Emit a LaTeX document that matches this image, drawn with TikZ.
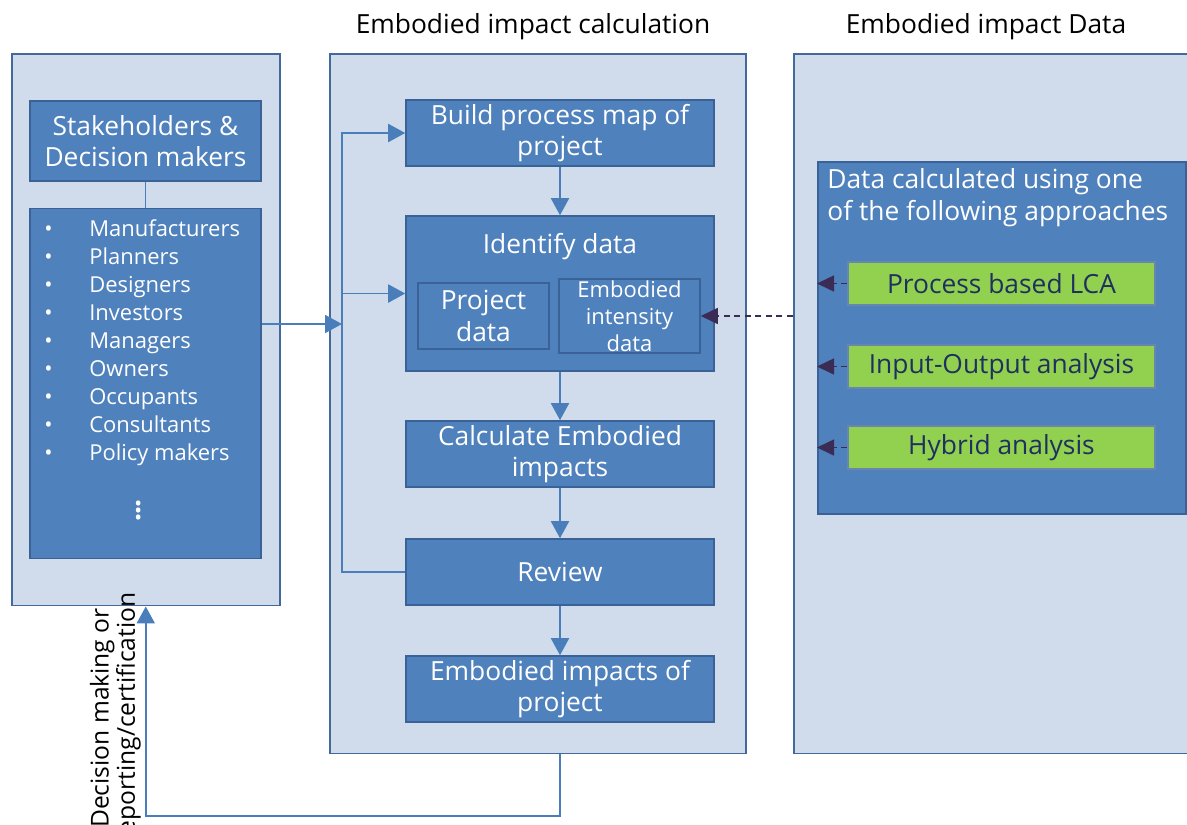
\documentclass[tikz,border=0pt]{standalone}
\usepackage{fontspec}
\setmainfont{Open Sans}
\usetikzlibrary{positioning,arrows.meta}
\definecolor{boxblue}{HTML}{4F81BD}
\definecolor{boxedge}{HTML}{3A6296}
\definecolor{panelfill}{HTML}{D0DCEC}
\definecolor{paneledge}{HTML}{43689B}
\definecolor{linkblue}{HTML}{4A7EBB}
\definecolor{datapurple}{HTML}{3B2C55}
\definecolor{lcagreen}{HTML}{92D050}
\definecolor{lcatext}{HTML}{1F3060}
\tikzset{
  panel/.style={draw=paneledge, fill=panelfill, line width=0.9pt, anchor=north west, inner sep=0pt},
  blue/.style={draw=boxedge, fill=boxblue, text=white, line width=0.9pt, align=center, inner sep=1pt},
  stepbox/.style={blue, minimum width=6.16cm, minimum height=1.32cm, font=\fontsize{15}{18}\selectfont},
  subbox/.style={blue, minimum height=1.32cm},
  lcabox/.style={draw=paneledge!80, fill=lcagreen, text=lcatext, line width=0.9pt, minimum width=6.14cm, minimum height=0.86cm, font=\fontsize{15}{17}\selectfont},
  heading/.style={font=\fontsize{15}{17}\selectfont},
  flow/.style={draw=linkblue, line width=1.1pt, -{Triangle[width=0.36cm,length=0.34cm]}},
  link/.style={draw=linkblue, line width=1.1pt},
  dataflow/.style={draw=datapurple, line width=0.9pt, dashed, dash pattern=on 3.5pt off 2.5pt, -{Triangle[width=0.32cm,length=0.34cm]}}
}
\begin{document}
\begin{tikzpicture}[x=0.02cm, y=-0.02cm]
\useasboundingbox (0,0) rectangle (1187,825);
% panels
\node[panel, minimum width=5.36cm, minimum height=11.04cm] (people) at (11,53) {};
\node[panel, minimum width=8.32cm, minimum height=14cm] (calc) at (329,53) {};
\node[panel, minimum width=8.4cm, minimum height=14cm] (data) at (793,53) {};
\node[heading] (calctitle) at (533,27) {Embodied impact calculation};
\node[heading] (datatitle) at (986,27) {Embodied impact Data};

% stakeholders
\node[blue, minimum width=4.62cm, minimum height=1.6cm, font=\fontsize{15}{18}\selectfont] (stake) at (145.5,141) {Stakeholders \&\\Decision makers};
\node[blue, minimum width=4.62cm, minimum height=7cm, below=0.52cm of stake] (list) {};
\node[anchor=north west, inner sep=0pt, text=white, font=\fontsize{12.5}{15.9}\selectfont] (names) at (44,217) {%
  \begin{tabular}{@{}p{0.9cm}@{}l@{}}
  • & Manufacturers\\
  • & Planners\\
  • & Designers\\
  • & Investors\\
  • & Managers\\
  • & Owners\\
  • & Occupants\\
  • & Consultants\\
  • & Policy makers
  \end{tabular}};
\node[text=white, font=\fontsize{22}{22}\selectfont] (more) at (139,505) {\vdots};

% process
\node[stepbox] (build) at (560,133) {Build process map of\\project};
\node[stepbox, minimum height=3.1cm] (identify) at (560,293.5) {};
\node[text=white, font=\fontsize{15}{17}\selectfont] (idtitle) at (560,247) {Identify data};
\node[subbox, minimum width=2.62cm, font=\fontsize{15}{18}\selectfont] (project) at (483.5,316) {Project\\data};
\node[subbox, minimum width=2.82cm, font=\fontsize{12.5}{15.3}\selectfont] (intensity) at (629.5,316) {Embodied\\intensity\\data};
\node[stepbox] (impacts) at (560,454) {Calculate Embodied\\impacts};
\node[stepbox] (review) at (560,572) {Review};
\node[stepbox] (result) at (560,689) {Embodied impacts of\\project};
\coordinate (feed) at (342,324);

% approaches
\node[blue, anchor=north west, minimum width=7.36cm, minimum height=7.04cm] (approach) at (817,161) {};
\node[anchor=north west, align=left, inner sep=0pt, text=white, font=\fontsize{15}{18}\selectfont] (approachtext) at (827,168) {Data calculated using one\\of the following approaches};
\node[lcabox] (lca) at (1001.5,283.5) {Process based LCA};
\node[lcabox] (io) at (1001.5,366.5) {Input-Output analysis};
\node[lcabox] (hybrid) at (1001.5,447.5) {Hybrid analysis};

\node[rotate=90, anchor=south, align=center, inner sep=1pt, font=\fontsize{14}{15}\selectfont] (decide) at (143,718) {Decision making or\\reporting/certification};

% edges
\draw[link] (stake) -- (list);
\draw[flow] (list.east |- feed) -- (feed);
\draw[flow] (review.west) -- (review.west -| feed) |- (build.west);
\draw[flow] (identify.west -| feed) -- (identify.west);
\draw[flow] (build) -- (identify);
\draw[flow] (identify) -- (impacts);
\draw[flow] (impacts) -- (review);
\draw[flow] (review) -- (result);
\draw[flow] (result |- calc.south) -- ++(0,62) -| (people.south);
\foreach \src in {lca,io,hybrid}
  \draw[dataflow] (\src.west) -- (\src.west -| approach.west);
\draw[dataflow] (intensity.east -| data.west) -- (intensity.east);
\end{tikzpicture}
\end{document}
